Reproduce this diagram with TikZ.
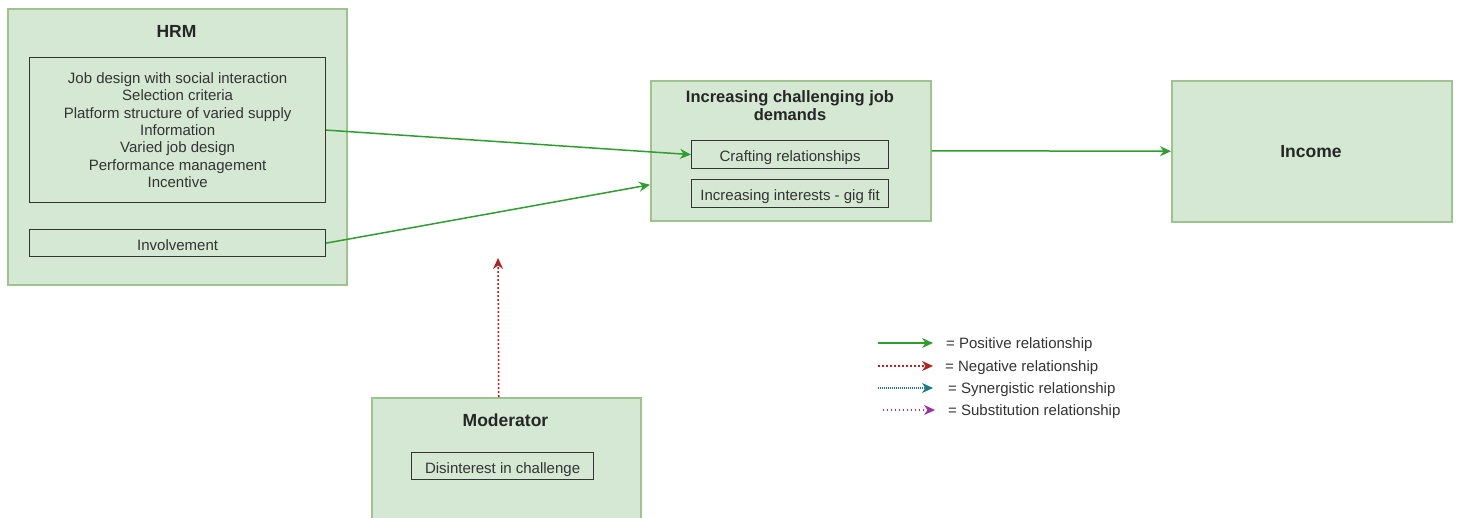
\documentclass[tikz,border=0pt]{standalone}
\usepackage{fontspec}
\setmainfont{Liberation Sans}
\usetikzlibrary{arrows.meta}
\definecolor{boxfill}{HTML}{D5E8D4}
\definecolor{boxline}{HTML}{9CC48C}
\definecolor{posg}{HTML}{2E9E2E}
\definecolor{negr}{HTML}{B22222}
\definecolor{syn}{HTML}{1B7A8A}
\definecolor{subp}{HTML}{9B30A0}
\definecolor{txt}{HTML}{333333}
\begin{document}
\begin{tikzpicture}[x=1pt,y=-1pt,
  outer/.style={draw=boxline, fill=boxfill, line width=1.5pt, anchor=north west, inner sep=0pt},
  inbox/.style={draw=black!80, line width=1.2pt, anchor=north west, inner sep=0pt, align=center, text=txt, font=\fontsize{15}{17.3}\selectfont},
  oneline/.style={text height=14.5pt, text depth=0pt},
  title/.style={text=black!85, font=\bfseries\fontsize{17.5}{18}\selectfont, align=center, inner sep=0pt},
  legtxt/.style={anchor=west, text=txt, font=\fontsize{15}{16}\selectfont, inner sep=0pt},
  tip/.style={-{Stealth[length=11pt,width=10pt]}},
  posarrow/.style={tip, draw=posg, line width=1.5pt},
  negarrow/.style={tip, draw=negr, line width=1.5pt, dash pattern=on 2pt off 2pt},
  synarrow/.style={tip, draw=syn, line width=1.2pt, dash pattern=on 1pt off 1pt},
  subarrow/.style={tip, draw=subp, line width=1.2pt, dash pattern=on 1pt off 3pt}
]
\useasboundingbox (0,0) rectangle (1459,517);
\clip (0,0) rectangle (1459,517);

% HRM
\node[outer, minimum width=339pt, minimum height=276pt] (hrm) at (7,8) {};
\node[title] (hrmtitle) at (176.5,31) {HRM};
\node[inbox, minimum width=296pt, minimum height=145pt] (practices) at (29,57)
  {Job design with social interaction\\Selection criteria\\Platform structure of varied supply\\Information\\Varied job design\\Performance management\\Incentive};
\node[inbox, oneline, minimum width=296pt, minimum height=27pt] (involve) at (29,229) {Involvement};

% Demands
\node[outer, minimum width=280pt, minimum height=140pt] (demands) at (650,80) {};
\node[title, font=\bfseries\fontsize{16.5}{18}\selectfont] (demtitle) at (790,106) {Increasing challenging job\\demands};
\node[inbox, oneline, minimum width=197pt, minimum height=28pt] (craft) at (691,140) {Crafting relationships};
\node[inbox, oneline, minimum width=197pt, minimum height=28pt] (interest) at (691,179) {Increasing interests - gig fit};

% Income
\node[outer, minimum width=280pt, minimum height=141pt] (income) at (1171,80) {};
\node[title] (inctitle) at (1311,151.5) {Income};

% Moderator
\node[outer, minimum width=269pt, minimum height=130pt] (moderator) at (371,397) {};
\node[title] (modtitle) at (505.5,420) {Moderator};
\node[inbox, oneline, minimum width=182pt, minimum height=27pt] (disint) at (411,452) {Disinterest in challenge};

% Connectors
\draw[posarrow] (practices.east) -- (craft.west);
\draw[posarrow] (involve.east) -- ([yshift=-34pt]demands.west);
\draw[posarrow] (demands.east) -- (income.west);
\coordinate (modtip) at (498,258);
\draw[negarrow] ([xshift=-7.5pt]moderator.north) -- (modtip);

% Legend
\coordinate (l1a) at (878,343); \coordinate (l1b) at (933,343);
\coordinate (l2a) at (878,366); \coordinate (l2b) at (933,366);
\coordinate (l3a) at (878,388); \coordinate (l3b) at (933,388);
\coordinate (l4a) at (883,410); \coordinate (l4b) at (935,410);
\draw[posarrow] (l1a) -- (l1b);
\draw[negarrow] (l2a) -- (l2b);
\draw[synarrow] (l3a) -- (l3b);
\draw[subarrow] (l4a) -- (l4b);
\node[legtxt] (leg1) at (946,345) {= Positive relationship};
\node[legtxt] (leg2) at (945,368) {= Negative relationship};
\node[legtxt] (leg3) at (948,390) {= Synergistic relationship};
\node[legtxt] (leg4) at (948,412) {= Substitution relationship};
\end{tikzpicture}
\end{document}
